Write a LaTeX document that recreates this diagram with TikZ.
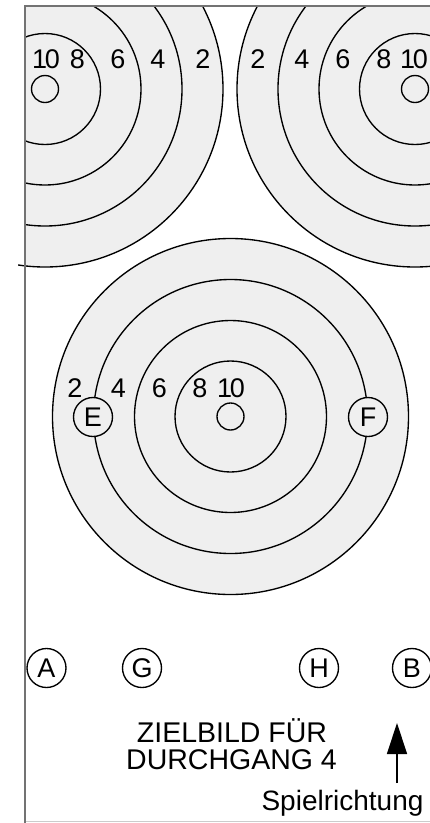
\documentclass[tikz,border=0pt]{standalone}
\usepackage{fontspec}
\setmainfont{Liberation Sans}
\usetikzlibrary{arrows.meta}
\definecolor{tfill}{RGB}{239,239,239}
\definecolor{framec}{RGB}{115,115,115}
\begin{document}
\begin{tikzpicture}[x=1pt,y=-1pt,
  ring/.style={draw=black, line width=1.35pt},
  dot/.style={circle, draw=black, line width=1.35pt, minimum size=27pt, inner sep=0pt},
  lbl/.style={circle, draw=black, line width=1.35pt, minimum size=39pt, inner sep=0pt,
              font=\fontsize{27}{27}\selectfont},
  num/.style={anchor=base, inner sep=0pt, font=\fontsize{27}{27}\selectfont},
  txt/.style={anchor=base, inner sep=0pt, font=\fontsize{28.5}{28.5}\selectfont},
  frameline/.style={draw=framec, line width=1.6pt}
]
\useasboundingbox (0,0) rectangle (430,823);

% ---- top targets (clipped by frame) ----
\begin{scope}
  \clip (25,6) rectangle (430,823);
  \fill[tfill] (45,89) circle[radius=178pt];
  \foreach \r in {178,137,96,55.5} \draw[ring] (45,89) circle[radius=\r pt];
  \fill[tfill] (415,89) circle[radius=178pt];
  \foreach \r in {178,137,96,55.5} \draw[ring] (415,89) circle[radius=\r pt];
  \node[dot] (tlc) at (45,89) {};
  \node[dot] (trc) at (415,89) {};
\end{scope}
% small overshoot of the outer ring past the frame
\begin{scope}
  \clip (18,250) rectangle (26,280);
  \draw[ring] (45,89) circle[radius=178pt];
\end{scope}

% ---- middle target ----
\fill[tfill] (230.5,416.5) circle[radius=178pt];
\foreach \r in {178,137,96,55.5} \draw[ring] (230.5,416.5) circle[radius=\r pt];
\node[dot] (mc) at (230.5,416.5) {};
\node[lbl, fill=tfill] (E) at (93,417) {E};
\node[lbl, fill=tfill] (F) at (368,417) {F};

% ---- ring numbers ----
\node[num] (tl10) at (46,68) {1\kern-2.5pt0};
\node[num] (tl8) at (77.5,68) {8};
\node[num] (tl6) at (118,68) {6};
\node[num] (tl4) at (158,68) {4};
\node[num] (tl2) at (203,68) {2};
\node[num] (tr2) at (258,68) {2};
\node[num] (tr4) at (302,68) {4};
\node[num] (tr6) at (343,68) {6};
\node[num] (tr8) at (384,68) {8};
\node[num] (tr10) at (414,68) {1\kern-2.5pt0};
\node[num] (m2) at (75,397) {2};
\node[num] (m4) at (118.5,397) {4};
\node[num] (m6) at (159.5,397) {6};
\node[num] (m8) at (200,397) {8};
\node[num] (m10) at (231,397) {1\kern-2.5pt0};

% ---- positions ----
\node[lbl, fill=white] (A) at (46.5,668) {A};
\node[lbl, fill=white] (G) at (142,668) {G};
\node[lbl, fill=white] (H) at (319,668) {H};
\node[lbl, fill=white] (B) at (412,668) {B};

% ---- texts ----
\node[txt] (z1) at (232,742) {ZIELBILD FÜR};
\node[txt] (z2) at (231.5,769) {DURCHGANG 4};
\node[txt, font=\fontsize{28}{28}\selectfont] (sp) at (342.5,810) {Spielrichtung};

% ---- direction arrow ----
\coordinate (arrS) at (397,783);
\coordinate (arrT) at (397,723);
\draw[line width=1.3pt, -{Triangle[length=31pt,width=20pt]}] (arrS) -- (arrT);

% ---- frame ----
\draw[draw=black!20, line width=0.8pt] (25,821.5) -- (430,821.5);
\draw[frameline, line join=miter] (25,823) -- (25,6) -- (432,6);
\end{tikzpicture}
\end{document}
